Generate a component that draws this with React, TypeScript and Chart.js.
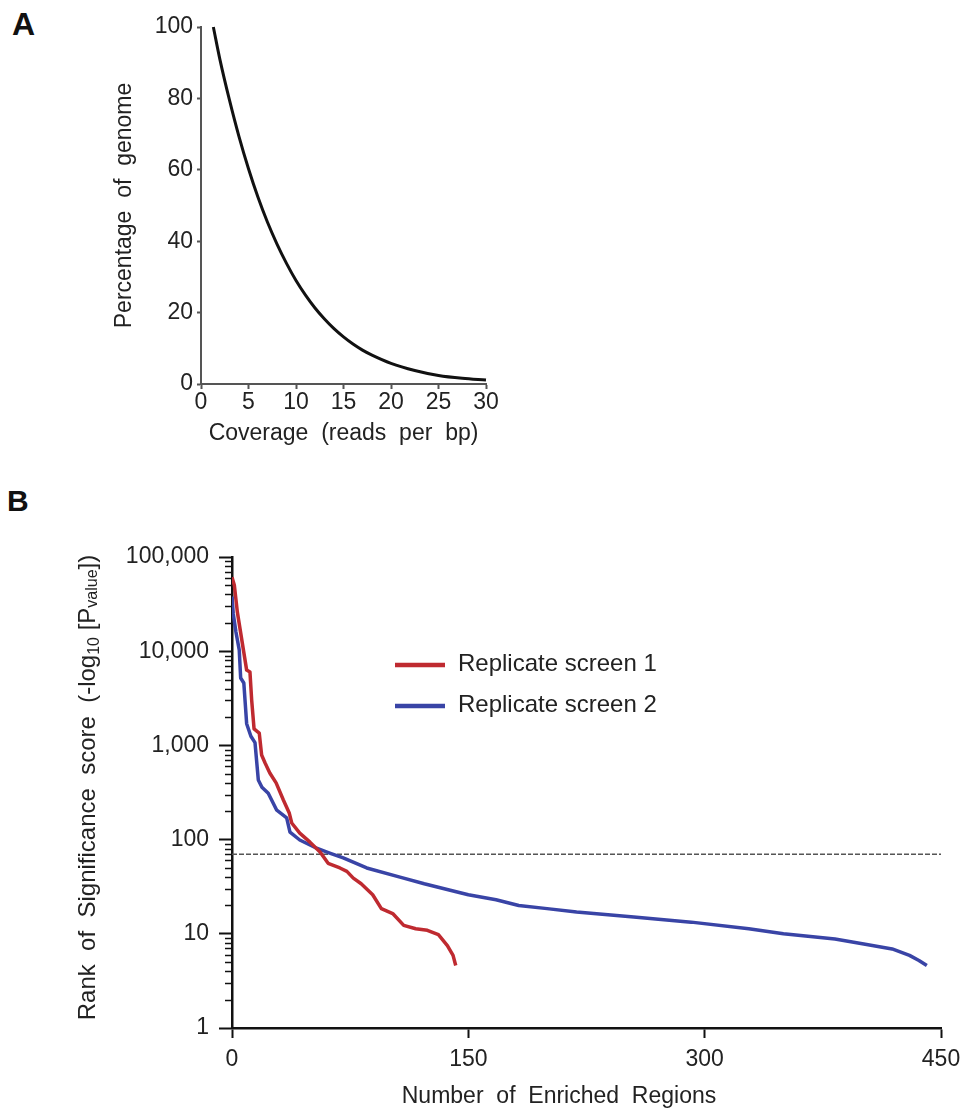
import React, { useEffect, useRef } from "react";
import { Chart, registerables } from "chart.js";

Chart.register(...registerables);

const FONT = "'Liberation Sans', Arial, Helvetica, sans-serif";

// ---------- Panel A data ----------
const coverageReads = [1.3, 2, 3, 4, 5, 6, 7, 8, 9, 10, 11, 12, 13, 14, 15, 16, 17, 18, 20, 22.5, 25, 27.5, 30];
const genomePercent = [100, 90.8, 79.5, 69.3, 60.3, 52.3, 45.3, 39.2, 33.8, 29, 24.9, 21.3, 18.2, 15.5, 13.2, 11.2, 9.5, 8.1, 5.8, 3.8, 2.4, 1.6, 1.1];
const coverageTickStep = 5;
const percentTickStep = 20;

// ---------- Panel B data ----------
const rep1Regions = [0, 1.5, 3.4, 9.3, 11.4, 12.5, 14, 17.3, 18.8, 21, 24, 28, 32.6, 36.4, 37.9, 43, 49.5, 55.9, 61, 68.5, 72.9, 77, 82, 89.3, 94.8, 102, 109, 116.6, 124, 131, 136.7, 140.3, 142];
const rep1Score = [61000, 50000, 26000, 6300, 6000, 3000, 1500, 1350, 790, 650, 510, 400, 263, 190, 150, 117, 94, 74, 56, 50, 46, 39, 34, 26, 18.5, 16.4, 12.3, 11.3, 10.9, 9.8, 7.5, 5.9, 4.6];

const rep2Regions = [0, 0.8, 2.5, 4.6, 5.5, 7.5, 9.3, 12, 14.6, 16.7, 19, 23, 28.4, 34.7, 36.8, 43, 53.7, 62, 70.6, 85.5, 106.6, 122, 138.5, 150, 167.6, 182, 200, 218.7, 255, 291.5, 328, 350, 382.7, 401, 419, 430, 436, 441];
const rep2Score = [38000, 25000, 16000, 10300, 5200, 4600, 1700, 1250, 1070, 430, 360, 310, 205, 170, 120, 99, 81, 72, 64, 50, 40, 34, 29, 26, 23, 20, 18.5, 17, 15.1, 13.3, 11.3, 10, 8.8, 7.8, 6.9, 5.9, 5.2, 4.6];

const thresholdScore = 70;
const regionTickStep = 150;
const scoreDecades = [1, 10, 100, 1000, 10000, 100000];
const seriesNames = ["Replicate screen 1", "Replicate screen 2"];
const seriesColors = ["#bf2a30", "#3944a6"];
const xTitleB = "Number  of  Enriched  Regions";

const minorTicksPlugin = {
  id: "minorLogTicks",
  afterDraw(chart: any) {
    const ys = chart.scales.y;
    if (!ys || ys.type !== "logarithmic") return;
    const ctx = chart.ctx;
    const left = chart.chartArea.left;
    ctx.save();
    ctx.strokeStyle = "#111";
    ctx.lineWidth = 1.5;
    for (let d = 0; d < scoreDecades.length - 1; d++) {
      for (let k = 2; k <= 9; k++) {
        const py = Math.round(ys.getPixelForValue(scoreDecades[d] * k)) + 0.5;
        ctx.beginPath();
        ctx.moveTo(left - 7, py);
        ctx.lineTo(left, py);
        ctx.stroke();
      }
    }
    ctx.restore();
  },
};

const titlesBPlugin = {
  id: "titlesB",
  afterDraw(chart: any) {
    const ctx = chart.ctx;
    const big = 24;
    const small = 16;
    const segs: [string, number, number][] = [
      ["Rank  of  Significance  score  (-log", big, 0],
      ["10", small, 4],
      [" [P", big, 0],
      ["value", small, 2],
      ["])", big, 0],
    ];
    ctx.save();
    let total = 0;
    const widths: number[] = [];
    for (const [t, s] of segs) {
      ctx.font = `${s}px ${FONT}`;
      const w = ctx.measureText(t).width;
      widths.push(w);
      total += w;
    }
    const cx = 95;
    const cy = (chart.chartArea.top + chart.chartArea.bottom) / 2 - 5;
    ctx.translate(cx, cy);
    ctx.rotate(-Math.PI / 2);
    ctx.fillStyle = "#222";
    ctx.textBaseline = "alphabetic";
    ctx.textAlign = "left";
    let x = -total / 2;
    segs.forEach(([t, s, dy], i) => {
      ctx.font = `${s}px ${FONT}`;
      ctx.fillText(t, x, dy);
      x += widths[i];
    });
    ctx.restore();

    // x-axis title (slightly left of the plot centre, as in the original figure)
    ctx.save();
    ctx.fillStyle = "#222";
    ctx.font = `23px ${FONT}`;
    ctx.textAlign = "center";
    ctx.textBaseline = "middle";
    ctx.fillText(xTitleB, chart.chartArea.left + 327, chart.height - 19);
    ctx.restore();
  },
};

const legendBPlugin = {
  id: "legendB",
  afterDraw(chart: any) {
    const ctx = chart.ctx;
    ctx.save();
    const rows = [195, 236];
    chart.data.datasets.slice(0, 2).forEach((ds: any, i: number) => {
      const y = rows[i];
      ctx.strokeStyle = ds.borderColor;
      ctx.lineWidth = 4.5;
      ctx.beginPath();
      ctx.moveTo(395, y);
      ctx.lineTo(445, y);
      ctx.stroke();
      ctx.fillStyle = "#222";
      ctx.font = `24px ${FONT}`;
      ctx.textBaseline = "middle";
      ctx.textAlign = "left";
      ctx.fillText(ds.label, 458, y - 1);
    });
    ctx.restore();
  },
};

function PanelA() {
  const ref = useRef<HTMLCanvasElement | null>(null);
  useEffect(() => {
    if (!ref.current) return;
    const chart = new Chart(ref.current, {
      type: "line",
      data: {
        datasets: [
          {
            data: coverageReads.map((x, i) => ({ x, y: genomePercent[i] })),
            borderColor: "#111",
            borderWidth: 3,
            pointRadius: 0,
            cubicInterpolationMode: "monotone",
            fill: false,
            clip: 6,
          } as any,
        ],
      },
      options: {
        responsive: false,
        animation: false,
        devicePixelRatio: 1,
        layout: { padding: { left: 0, right: 14, top: 27, bottom: 0 } },
        plugins: { legend: { display: false }, tooltip: { enabled: false } },
        scales: {
          x: {
            type: "linear",
            min: 0,
            max: 30,
            ticks: { stepSize: coverageTickStep, font: { family: FONT, size: 23 }, color: "#222", padding: 0, maxRotation: 0, autoSkip: false },
            grid: { drawOnChartArea: false, drawTicks: true, tickLength: 5, tickColor: "#555", tickWidth: 2 },
            border: { display: true, color: "#555", width: 2 },
            title: { display: true, text: "Coverage  (reads  per  bp)", font: { family: FONT, size: 23 }, color: "#222", padding: { top: 0, bottom: 13 } },
            afterFit: (s: any) => { s.height = 76; s.paddingLeft = 0; s.paddingRight = 0; },
          },
          y: {
            type: "linear",
            min: 0,
            max: 100,
            ticks: { stepSize: percentTickStep, font: { family: FONT, size: 23 }, color: "#222", padding: 4 },
            grid: { drawOnChartArea: false, drawTicks: true, tickLength: 4, tickColor: "#555", tickWidth: 2 },
            border: { display: true, color: "#555", width: 2 },
            title: { display: true, text: "Percentage  of  genome", font: { family: FONT, size: 23 }, color: "#222", padding: { top: 111, bottom: 0 } },
            afterFit: (s: any) => { s.width = 201; s.paddingTop = 0; s.paddingBottom = 0; },
          },
        },
      } as any,
    });
    return () => chart.destroy();
  }, []);
  return <canvas ref={ref} width={500} height={460} style={{ position: "absolute", left: 0, top: 0, width: 500, height: 460 }} />;
}

function PanelB() {
  const ref = useRef<HTMLCanvasElement | null>(null);
  useEffect(() => {
    if (!ref.current) return;
    const chart = new Chart(ref.current, {
      type: "line",
      data: {
        datasets: [
          {
            label: seriesNames[0],
            data: rep1Regions.map((x, i) => ({ x, y: rep1Score[i] })),
            borderColor: seriesColors[0],
            borderWidth: 3.5,
            pointRadius: 0,
            tension: 0,
            borderJoinStyle: "round",
            order: 1,
          },
          {
            label: seriesNames[1],
            data: rep2Regions.map((x, i) => ({ x, y: rep2Score[i] })),
            borderColor: seriesColors[1],
            borderWidth: 3.5,
            pointRadius: 0,
            tension: 0,
            borderJoinStyle: "round",
            order: 1,
          },
          {
            label: "threshold",
            data: [{ x: 0, y: thresholdScore }, { x: 450, y: thresholdScore }],
            borderColor: "#555",
            borderWidth: 1.5,
            borderDash: [5, 2],
            pointRadius: 0,
            order: 2,
          },
        ] as any,
      },
      options: {
        responsive: false,
        animation: false,
        devicePixelRatio: 1,
        layout: { padding: { left: 0, right: 20, top: 87, bottom: 0 } },
        plugins: { legend: { display: false }, tooltip: { enabled: false } },
        scales: {
          x: {
            type: "linear",
            min: 0,
            max: 450,
            ticks: { stepSize: regionTickStep, font: { family: FONT, size: 23 }, color: "#222", padding: 8, maxRotation: 0, autoSkip: false },
            grid: { drawOnChartArea: false, drawTicks: true, tickLength: 10, tickColor: "#111", tickWidth: 2 },
            border: { display: true, color: "#111", width: 2.5 },
            afterFit: (s: any) => { s.height = 88; s.paddingLeft = 0; s.paddingRight = 0; },
          },
          y: {
            type: "logarithmic",
            min: 1,
            max: 100000,
            afterBuildTicks: (s: any) => { s.ticks = scoreDecades.map((v) => ({ value: v, major: true })); },
            ticks: {
              font: { family: FONT, size: 23 },
              color: "#222",
              padding: 10,
              autoSkip: false,
              callback: (v: any) => Number(v).toLocaleString("en-US"),
            },
            grid: { drawOnChartArea: false, drawTicks: true, tickLength: 13, tickColor: "#111", tickWidth: 2 },
            border: { display: true, color: "#111", width: 2.5 },
            afterFit: (s: any) => { s.width = 232; s.paddingTop = 0; s.paddingBottom = 0; },
          },
        },
      } as any,
      plugins: [minorTicksPlugin, titlesBPlugin, legendBPlugin],
    });
    return () => chart.destroy();
  }, []);
  return <canvas ref={ref} width={961} height={646} style={{ position: "absolute", left: 0, top: 470, width: 961, height: 646 }} />;
}

export default function App() {
  const labelStyle: React.CSSProperties = {
    position: "absolute",
    fontFamily: FONT,
    fontWeight: "bold",
    color: "#111",
    margin: 0,
  };
  return (
    <div style={{ position: "absolute", left: 0, top: 0, width: 961, height: 1116, background: "#fff", overflow: "hidden" }}>
      <div style={{ ...labelStyle, left: 12, top: 8, fontSize: 32, lineHeight: "32px" }}>A</div>
      <div style={{ ...labelStyle, left: 7, top: 486, fontSize: 30, lineHeight: "30px" }}>B</div>
      <PanelA />
      <PanelB />
    </div>
  );
}
